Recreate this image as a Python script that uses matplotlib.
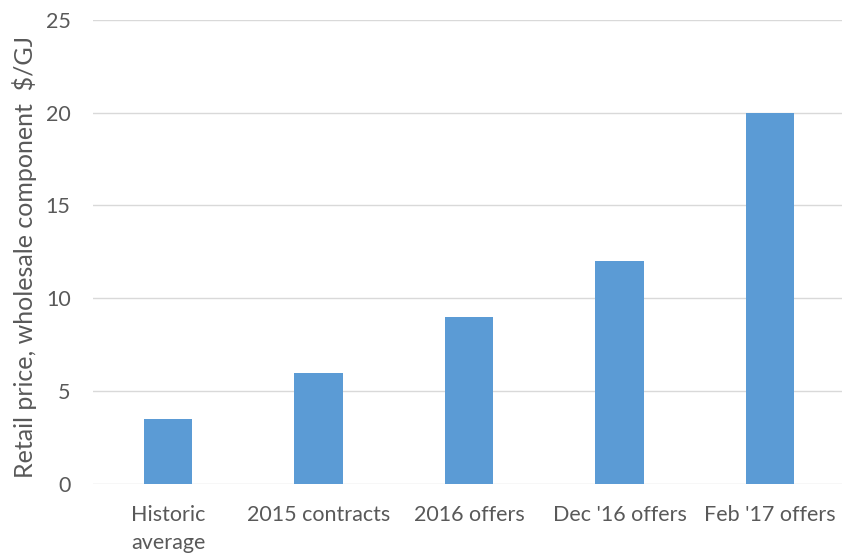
import matplotlib.pyplot as plt
import numpy as np

categories = ["Historic\naverage", "2015 contracts", "2016 offers", "Dec '16 offers", "Feb '17 offers"]
values = [3.5, 6, 9, 12, 20]
yticks = [0, 5, 10, 15, 20, 25]

plt.rcParams['font.family'] = ['Lato', 'DejaVu Sans']
text_col = '#595959'
grid_col = '#d9d9d9'

fig = plt.figure(figsize=(8.42, 5.56), dpi=100)
ax = fig.add_axes([0.1102, 0.1295, 0.8937, 0.835])

x = np.arange(len(categories))
ax.bar(x, values, width=0.32, color='#5b9bd5', zorder=3)

ax.set_xlim(-0.5, len(categories) - 0.5)
ax.set_ylim(0, 25)
ax.set_yticks(yticks)
ax.set_xticks(x)
ax.set_xticklabels(categories, linespacing=1.5)
ax.yaxis.grid(True, color=grid_col, linewidth=1.0, zorder=0)
for s in ['top', 'right', 'left', 'bottom']:
    ax.spines[s].set_visible(False)
ax.tick_params(axis='both', length=0, labelsize=15.5, labelcolor=text_col)
ax.tick_params(axis='y', pad=16)
ax.tick_params(axis='x', pad=15)
ax.set_ylabel("Retail price, wholesale component  $/GJ", fontsize=18,
              color=text_col)
ax.yaxis.set_label_coords(-0.074, 0.49)

fig.savefig("out.png", dpi=100)
